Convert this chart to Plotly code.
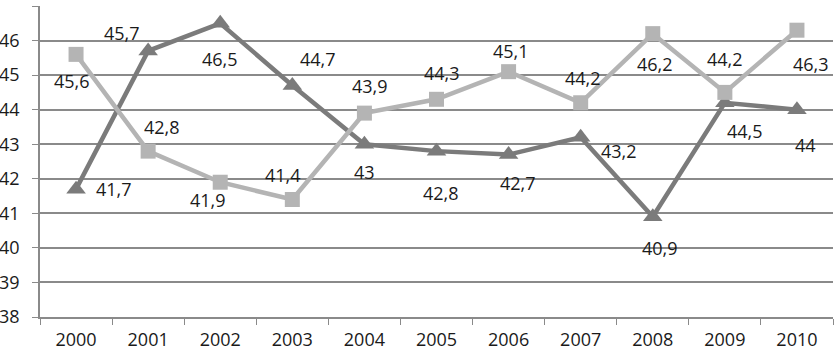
import plotly.graph_objects as go

years = ["2000", "2001", "2002", "2003", "2004", "2005", "2006", "2007", "2008", "2009", "2010"]
series_triangle = [41.7, 45.7, 46.5, 44.7, 43.0, 42.8, 42.7, 43.2, 40.9, 44.2, 44.0]
series_square = [45.6, 42.8, 41.9, 41.4, 43.9, 44.3, 45.1, 44.2, 46.2, 44.5, 46.3]
y_ticks = [38, 39, 40, 41, 42, 43, 44, 45, 46, 47]

# label pixel offsets (dx, dy with dy positive = up)
tri_offsets = [(38, 0), (-26, 18), (0, -36), (26, 26), (0, -28), (4, -42),
               (9, -28), (38, -14), (7, -31), (0, 44), (9, -35)]
sq_offsets = [(-4, -27), (14, 24), (-12, -18), (-9, 25), (6, 27), (5, 26),
              (2, 21), (2, 25), (2, -30), (20, -39), (14, -34)]

FONT = "Open Sans"
dark = "#7b7b7b"
light = "#b4b4b4"

def fmt(v):
    s = ("%.1f" % v).rstrip("0").rstrip(".")
    return s.replace(".", ",")

fig = go.Figure()
fig.add_trace(go.Scatter(x=years, y=series_triangle, mode="lines+markers",
                         line=dict(color=dark, width=4.5),
                         marker=dict(symbol="triangle-up", size=17, color=dark),
                         showlegend=False))
fig.add_trace(go.Scatter(x=years, y=series_square, mode="lines+markers",
                         line=dict(color=light, width=4.5),
                         marker=dict(symbol="square", size=15, color=light),
                         showlegend=False))

annotations = []
for i, (v, (dx, dy)) in enumerate(zip(series_triangle, tri_offsets)):
    annotations.append(dict(x=i, y=v, xref="x", yref="y", text=fmt(v), showarrow=False,
                            xshift=dx, yshift=dy, font=dict(family=FONT, size=18, color="#1a1a1a")))
for i, (v, (dx, dy)) in enumerate(zip(series_square, sq_offsets)):
    annotations.append(dict(x=i, y=v, xref="x", yref="y", text=fmt(v), showarrow=False,
                            xshift=dx, yshift=dy, font=dict(family=FONT, size=18, color="#1a1a1a")))

fig.update_layout(
    width=834, height=351,
    margin=dict(l=40, r=1, t=6, b=34),
    paper_bgcolor="white", plot_bgcolor="white",
    font=dict(family=FONT, size=18, color="#1a1a1a"),
    annotations=annotations,
    xaxis=dict(type="category", range=[-0.5, 10.5], tickson="boundaries",
               ticks="outside", ticklen=6, tickcolor="#8a8a8a", automargin=False,
               showline=True, linecolor="#8a8a8a", linewidth=1.5,
               showgrid=False, zeroline=False, ticklabelstandoff=6,
               tickfont=dict(family=FONT, size=18)),
    yaxis=dict(range=[38, 47], tickvals=y_ticks, ticks="outside", ticklen=6,
               tickcolor="#8a8a8a", showline=True, linecolor="#8a8a8a", linewidth=1.5,
               showgrid=True, gridcolor="#8a8a8a", gridwidth=1.5, zeroline=False,
               automargin=False, ticklabelstandoff=9, tickfont=dict(family=FONT, size=18)),
)

fig.write_html("out.html", config={"displayModeBar": False},
               post_script="document.body.style.margin='0';")
